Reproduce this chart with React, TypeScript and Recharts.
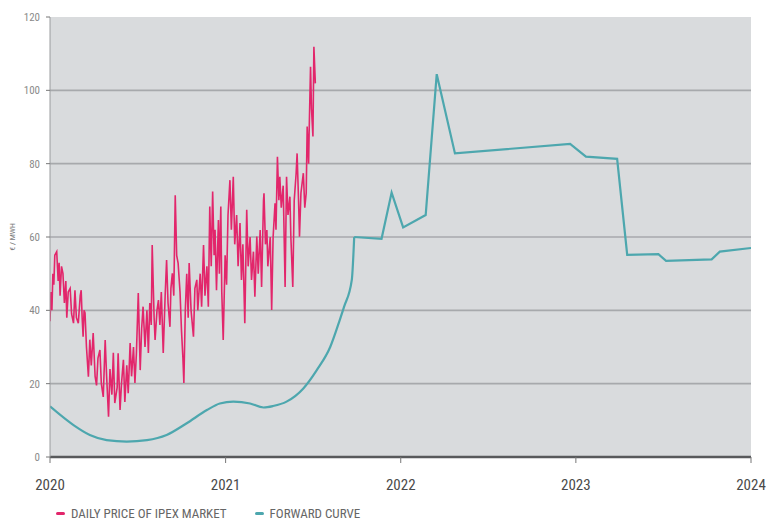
import { LineChart, Line, XAxis, YAxis, CartesianGrid, Legend } from "recharts";

const PINK = "#e2266b";
const TEAL = "#4da7ae";
const FONT =
  "'Liberation Sans Narrow', 'Roboto Condensed', 'DejaVu Sans Condensed', Roboto, sans-serif";

// x axis is in days since 1 Jan 2020
const yearTicks = [0, 366, 731, 1096, 1461];
const yearLabels = ["2020", "2021", "2022", "2023", "2024"];
const priceTicks = [0, 20, 40, 60, 80, 100, 120];
const gridValues = [20, 40, 60, 80, 100];

// daily IPEX price (€/MWh)
const dailyDays = [
  0, 2, 4, 6, 8, 10, 14, 17, 19, 21,
  24, 27, 30, 33, 35, 38, 42, 45, 49, 52,
  55, 59, 63, 65, 67, 69, 71, 73, 76, 80,
  83, 86, 90, 94, 97, 100, 104, 107, 111, 115,
  118, 122, 125, 129, 132, 135, 140, 142, 146, 149,
  153, 156, 160, 163, 167, 170, 174, 177, 180, 184,
  188, 191, 194, 198, 202, 205, 208, 211, 213, 217,
  219, 223, 226, 229, 232, 236, 240, 243, 246, 250,
  252, 255, 258, 261, 264, 267, 271, 274, 277, 279,
  282, 285, 288, 290, 294, 299, 302, 306, 308, 313,
  316, 320, 323, 327, 330, 333, 336, 339, 342, 344,
  347, 351, 353, 356, 358, 361, 365, 368, 371, 375,
  378, 382, 385, 389, 392, 396, 399, 402, 406, 410,
  413, 417, 420, 424, 427, 431, 434, 438, 441, 445,
  446, 449, 452, 454, 459, 462, 465, 469, 471, 474,
  477, 479, 482, 486, 490, 493, 496, 500, 502, 506,
  509, 513, 515, 518, 520, 523, 528, 531, 534, 536,
  539, 540, 543, 545, 548, 550, 553,
];
const dailyPrices = [
  37, 45, 40, 50, 47, 55, 56, 48, 53, 44,
  52, 50, 42, 48, 38, 45, 46, 39, 36.5, 45.5,
  38, 36.5, 44, 45.5, 38, 32.8, 40, 39.3, 30, 21.9,
  32, 25, 33.8, 22, 19.5, 27, 29.2, 20, 16.4, 31.9,
  22, 11, 24, 17, 28.4, 14.7, 19, 28.3, 12.8, 20,
  26.5, 15, 25, 17.4, 31.1, 22, 30, 20.2, 28, 44.7,
  23.7, 35, 41, 30, 40, 28.4, 42, 36, 57.8, 38,
  31.9, 40, 42.8, 36, 45, 28.4, 44, 53.7, 42, 35.5,
  46, 50.1, 44, 71.4, 55, 52.9, 45, 34.6, 27, 20.2,
  40, 50, 38, 52.9, 40, 32.8, 46, 48.3, 40, 50,
  41, 57.8, 44, 52, 41, 68.3, 52, 72.4, 55, 62,
  45.5, 64.6, 50, 68.3, 45, 31.9, 55, 47, 66, 75.5,
  62, 76.4, 58, 66, 52, 63.8, 48.3, 58, 36.5, 67.4,
  52, 60, 48.3, 56, 43.7, 60.1, 50, 61.9, 46.4, 70,
  71.9, 58, 61.9, 52, 60, 40.1, 60, 69.2, 62, 81.9,
  70, 76.4, 68, 74, 46.4, 76.4, 66, 71, 60, 46.4,
  70, 77.4, 82.8, 70, 60.1, 72, 77.4, 68, 72, 90.1,
  80, 88, 106.4, 95, 87.4, 111.9, 101.9,
];

// forward curve: smoothed history part, then quoted forward products
const curveDays = [0, 49, 83, 118, 160, 202, 243, 285, 327, 354, 382, 417, 445, 465, 493, 528, 556, 584, 604, 613, 629, 634];
const curveValues = [13.8, 8.7, 6, 4.6, 4.2, 4.6, 6, 9.2, 12.8, 14.6, 15.1, 14.6, 13.5, 13.9, 15.1, 18.7, 23.7, 30, 37.4, 41, 48.3, 60];
const forwardDays = [634, 691, 712, 736, 783, 806, 844, 1084, 1117, 1182, 1203, 1268, 1284, 1379, 1396, 1461];
const forwardValues = [60, 59.5, 72.1, 62.6, 66, 104.4, 82.8, 85.4, 81.9, 81.3, 55.1, 55.3, 53.5, 53.9, 56, 57];

const legendItems = [
  { label: "DAILY PRICE OF IPEX MARKET", color: PINK },
  { label: "FORWARD CURVE", color: TEAL },
];

const dailySeries = dailyDays.map((day, i) => ({ day, price: dailyPrices[i] }));
const curveSeries = curveDays.map((day, i) => ({ day, value: curveValues[i] }));
const forwardSeries = forwardDays.map((day, i) => ({ day, value: forwardValues[i] }));

function UnitLabel(props: any) {
  const vb = props.viewBox || {};
  const cx = 13;
  const cy = vb.height ? vb.y + vb.height / 2 : 237;
  return (
    <text
      x={cx}
      y={cy}
      transform={`rotate(-90 ${cx} ${cy})`}
      textAnchor="middle"
      dominantBaseline="middle"
      fontSize={8}
      fill="#777"
      fontFamily={FONT}
    >
      € / MWH
    </text>
  );
}

function ChartLegend() {
  return (
    <div
      style={{
        display: "flex",
        alignItems: "center",
        height: 24,
        fontFamily: FONT,
        fontSize: 13,
        color: "#666",
      }}
    >
      {legendItems.map((item) => (
        <div key={item.label} style={{ display: "flex", alignItems: "center", marginRight: 28 }}>
          <span
            style={{
              display: "inline-block",
              width: 9,
              height: 3,
              borderRadius: 2,
              background: item.color,
              marginRight: 6,
            }}
          />
          <span>{item.label}</span>
        </div>
      ))}
    </div>
  );
}

export default function App() {
  return (
    <div style={{ position: "absolute", left: 0, top: 0, background: "#fff" }}>
      <LineChart width={781} height={525} margin={{ top: 17, right: 30, bottom: 0, left: 0 }}>
        <CartesianGrid
          vertical={false}
          horizontalValues={gridValues}
          fill="#d9dbdd"
          stroke="#a7a9ac"
          strokeWidth={1.6}
        />
        <XAxis
          type="number"
          dataKey="day"
          domain={[0, 1461]}
          ticks={yearTicks}
          tickFormatter={(d: number) => yearLabels[yearTicks.indexOf(d)]}
          height={44}
          tickSize={6}
          tickMargin={16}
          axisLine={{ stroke: "#58595b", strokeWidth: 2.5 }}
          tickLine={{ stroke: "#777" }}
          tick={{ fill: "#4a4a4a", fontSize: 15, fontFamily: FONT }}
          allowDataOverflow
        />
        <YAxis
          type="number"
          domain={[0, 120]}
          ticks={priceTicks}
          width={50}
          tickSize={4}
          tickMargin={6}
          axisLine={{ stroke: "#9a9c9e" }}
          tickLine={{ stroke: "#777" }}
          tick={{ fill: "#8a8a8a", fontSize: 11, fontFamily: FONT }}
          label={<UnitLabel />}
        />
        <Legend
          verticalAlign="bottom"
          align="left"
          height={24}
          wrapperStyle={{ left: 56 }}
          content={() => <ChartLegend />}
        />
        <Line
          data={dailySeries}
          dataKey="price"
          name="DAILY PRICE OF IPEX MARKET"
          type="linear"
          stroke={PINK}
          strokeWidth={1.6}
          dot={false}
          isAnimationActive={false}
        />
        <Line
          data={curveSeries}
          dataKey="value"
          name="FORWARD CURVE"
          type="monotone"
          stroke={TEAL}
          strokeWidth={2.2}
          dot={false}
          isAnimationActive={false}
        />
        <Line
          data={forwardSeries}
          dataKey="value"
          name="FORWARD CURVE"
          type="linear"
          stroke={TEAL}
          strokeWidth={2.2}
          dot={false}
          isAnimationActive={false}
        />
      </LineChart>
    </div>
  );
}
